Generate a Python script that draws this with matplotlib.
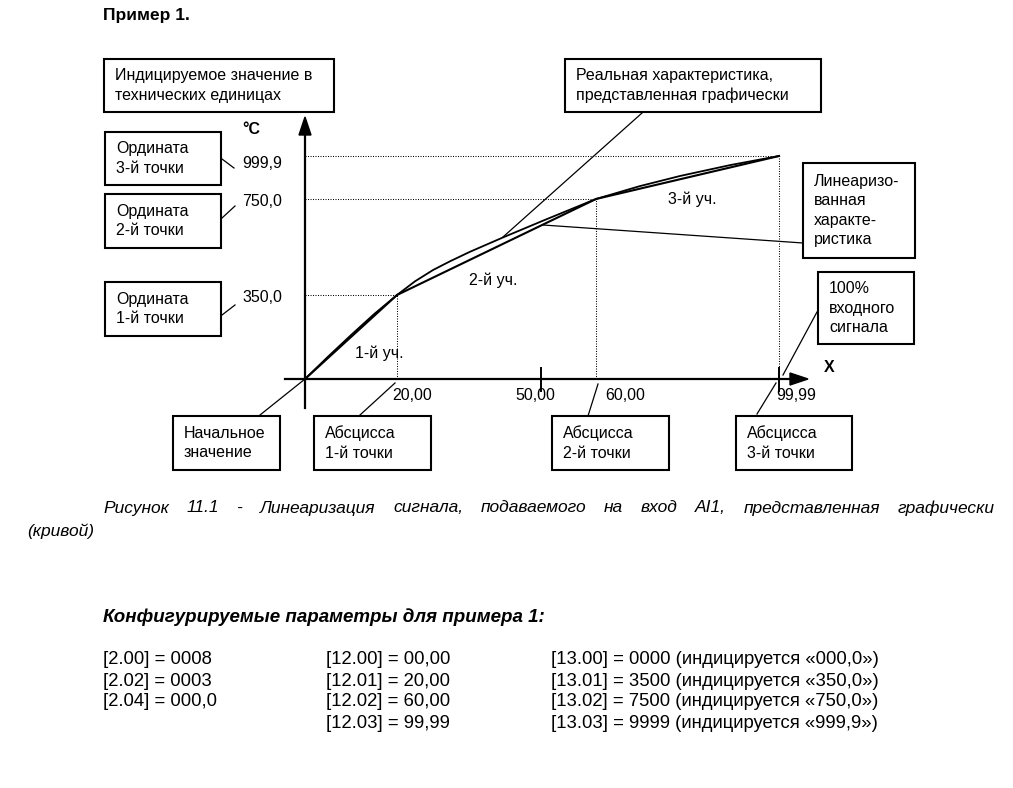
import matplotlib
matplotlib.use("Agg")
import matplotlib.pyplot as plt
import numpy as np
from matplotlib.patches import Rectangle, Polygon

plt.rcParams["font.family"] = ["Liberation Sans", "DejaVu Sans"]

# linearization points: abscissa (% of input), ordinate (°C)
lin_x = [0.0, 20.0, 60.0, 99.99]
lin_y = [0.0, 350.0, 750.0, 999.9]

real_x = [0.0, 5.0, 10.0, 15.0, 20.0, 23.75, 27.5, 31.0, 35.2, 42.1, 50.4, 55.3, 60.0, 69.6, 78.4, 89.3, 99.99]
real_y = [0.0, 93.0, 183.0, 270.0, 350.0, 407.0, 454.0, 490.0, 530.0, 590.0, 660.0, 706.0, 750.0, 825.0, 884.0, 947.0, 999.9]

x_ticks = [20.0, 50.0, 60.0, 99.99]
x_tick_labels = ["20,00", "50,00", "60,00", "99,99"]
y_ticks = [999.9, 750.0, 350.0]
y_tick_labels = ["999,9", "750,0", "350,0"]

# the drawing is schematic, not to scale -> piecewise scales
x_knots = [0.0, 20.0, 50.0, 60.0, 99.99]
x_span = [0.0, 92.0, 236.0, 291.0, 474.0]
y_knots = [0.0, 350.0, 750.0, 999.9]
y_span = [0.0, 84.0, 180.0, 223.0]

params_1 = ["[2.00] = 0008", "[2.02] = 0003", "[2.04] = 000,0"]
params_12 = ["[12.00] = 00,00", "[12.01] = 20,00", "[12.02] = 60,00", "[12.03] = 99,99"]
params_13 = ["[13.00] = 0000 (индицируется «000,0»)",
             "[13.01] = 3500 (индицируется «350,0»)",
             "[13.02] = 7500 (индицируется «750,0»)",
             "[13.03] = 9999 (индицируется «999,9»)"]

W, H = 1013, 788
fig = plt.figure(figsize=(W / 100, H / 100), dpi=100)

ax = fig.add_axes([305 / W, 1 - 379 / H, 474 / W, 223 / H])
ax.set_xscale("function", functions=(lambda v: np.interp(v, x_knots, x_span),
                                     lambda s: np.interp(s, x_span, x_knots)))
ax.set_yscale("function", functions=(lambda v: np.interp(v, y_knots, y_span),
                                     lambda s: np.interp(s, y_span, y_knots)))
ax.set_xlim(0, 99.99)
ax.set_ylim(0, 999.9)
ax.axis("off")

# overlay in pixel coordinates for the boxes and notes
ov = fig.add_axes([0, 0, 1, 1])
ov.set_xlim(0, W)
ov.set_ylim(H, 0)
ov.axis("off")

dot = dict(color="black", lw=0.75, dashes=(1.0, 1.4), clip_on=False)
for x, y in zip(lin_x[1:], lin_y[1:]):
    ax.plot([0, x], [y, y], **dot)
    ax.plot([x, x], [0, y], **dot)

ax.plot(real_x, real_y, color="black", lw=1.3, clip_on=False, solid_joinstyle="round")
ax.plot(lin_x, lin_y, color="black", lw=1.5, clip_on=False)

# ticks at 50 and 99.99
for x in [50.0, 99.99]:
    ax.plot([x, x], [0.05, -0.055], color="black", lw=1.4,
            transform=ax.get_xaxis_transform(), clip_on=False)

fs = 11.5
tick_dx = [-5, -26, 9, -3]
for x, lab, dx in zip(x_ticks, x_tick_labels, tick_dx):
    ax.annotate(lab, xy=(x, 0), xytext=(dx, -17), textcoords="offset pixels",
                ha="left", va="center", fontsize=fs)
tick_dy = [-8, -3, -2]
for y, lab, dy in zip(y_ticks, y_tick_labels, tick_dy):
    ax.annotate(lab, xy=(0, y), xytext=(-63, dy), textcoords="offset pixels",
                ha="left", va="center", fontsize=fs)

# axes arrows
ov.plot([285, 796], [379, 379], color="black", lw=1.6)
ov.add_patch(Polygon([(790, 373), (808, 379), (790, 385)], closed=True, color="black"))
ov.plot([305, 305], [408, 130], color="black", lw=1.6)
ov.add_patch(Polygon([(299, 135), (305, 117), (311, 135)], closed=True, color="black"))
ov.text(824, 367, "X", fontsize=fs, fontweight="bold", ha="left", va="center")
ov.text(242, 129, "°C", fontsize=fs, fontweight="bold", ha="left", va="center")

for txt, x, y in [("1-й уч.", 355, 353), ("2-й уч.", 469, 280), ("3-й уч.", 668, 199)]:
    ov.text(x, y, txt, fontsize=fs, ha="left", va="center")

boxes = [
    ((104, 59, 334, 112), "Индицируемое значение в\nтехнических единицах"),
    ((105, 132, 221, 185), "Ордината\n3-й точки"),
    ((105, 194, 221, 248), "Ордината\n2-й точки"),
    ((105, 282, 221, 336), "Ордината\n1-й точки"),
    ((565, 59, 821, 112), "Реальная характеристика,\nпредставленная графически"),
    ((803, 163, 915, 258), "Линеаризо-\nванная\nхаракте-\nристика"),
    ((818, 272, 914, 344), "100%\nвходного\nсигнала"),
    ((173, 416, 280, 470), "Начальное\nзначение"),
    ((314, 416, 431, 470), "Абсцисса\n1-й точки"),
    ((552, 416, 669, 470), "Абсцисса\n2-й точки"),
    ((736, 416, 852, 470), "Абсцисса\n3-й точки"),
]
for (x0, y0, x1, y1), txt in boxes:
    ov.add_patch(Rectangle((x0, y0), x1 - x0, y1 - y0, fill=False, ec="black", lw=1.5))
    ov.text(x0 + 11, (y0 + y1) / 2, txt, fontsize=fs, ha="left", va="center",
            linespacing=1.35)

leaders = [
    ((222, 159), (234, 168)),
    ((222, 218), (235, 206)),
    ((222, 315), (235, 305)),
    ((642, 113), (503, 237)),
    ((803, 243), (543, 225)),
    ((817, 312), (783, 375)),
    ((260, 415), (305, 379)),
    ((360, 415), (395, 383)),
    ((588, 416), (598, 384)),
    ((757, 414), (776, 383)),
]
for (xa, ya), (xb, yb) in leaders:
    ov.plot([xa, xb], [ya, yb], color="black", lw=0.9)

ov.text(103, 15, "Пример 1.", fontsize=12.5, fontweight="bold", ha="left", va="center")

narrow = ["Liberation Sans Narrow", "Liberation Sans", "DejaVu Sans"]

# caption, justified like in the document
cap = "Рисунок 11.1 - Линеаризация сигнала, подаваемого на вход AI1, представленная графически"
words = cap.split()
arts = [ov.text(0, 508, w, fontsize=12.5, style="italic", family=narrow,
                ha="left", va="center") for w in words]
r = fig.canvas.get_renderer()
widths = [a.get_window_extent(r).width for a in arts]
gap = (995 - 103 - sum(widths)) / (len(words) - 1)
xpos = 103
for a, w in zip(arts, widths):
    a.set_x(xpos)
    xpos += w + gap
ov.text(27, 531, "(кривой)", fontsize=12.5, style="italic", family=narrow, ha="left", va="center")

ov.text(103, 617, "Конфигурируемые параметры для примера 1:", fontsize=13.5,
        style="italic", fontweight="bold", family=narrow, ha="left", va="center")

row_y = [660, 681, 702, 723]
for col_x, col in [(103, params_1), (326, params_12), (551, params_13)]:
    for y, t in zip(row_y, col):
        ov.text(col_x, y, t, fontsize=13.3, family=narrow, ha="left", va="center")

fig.savefig("out.png", dpi=100)
